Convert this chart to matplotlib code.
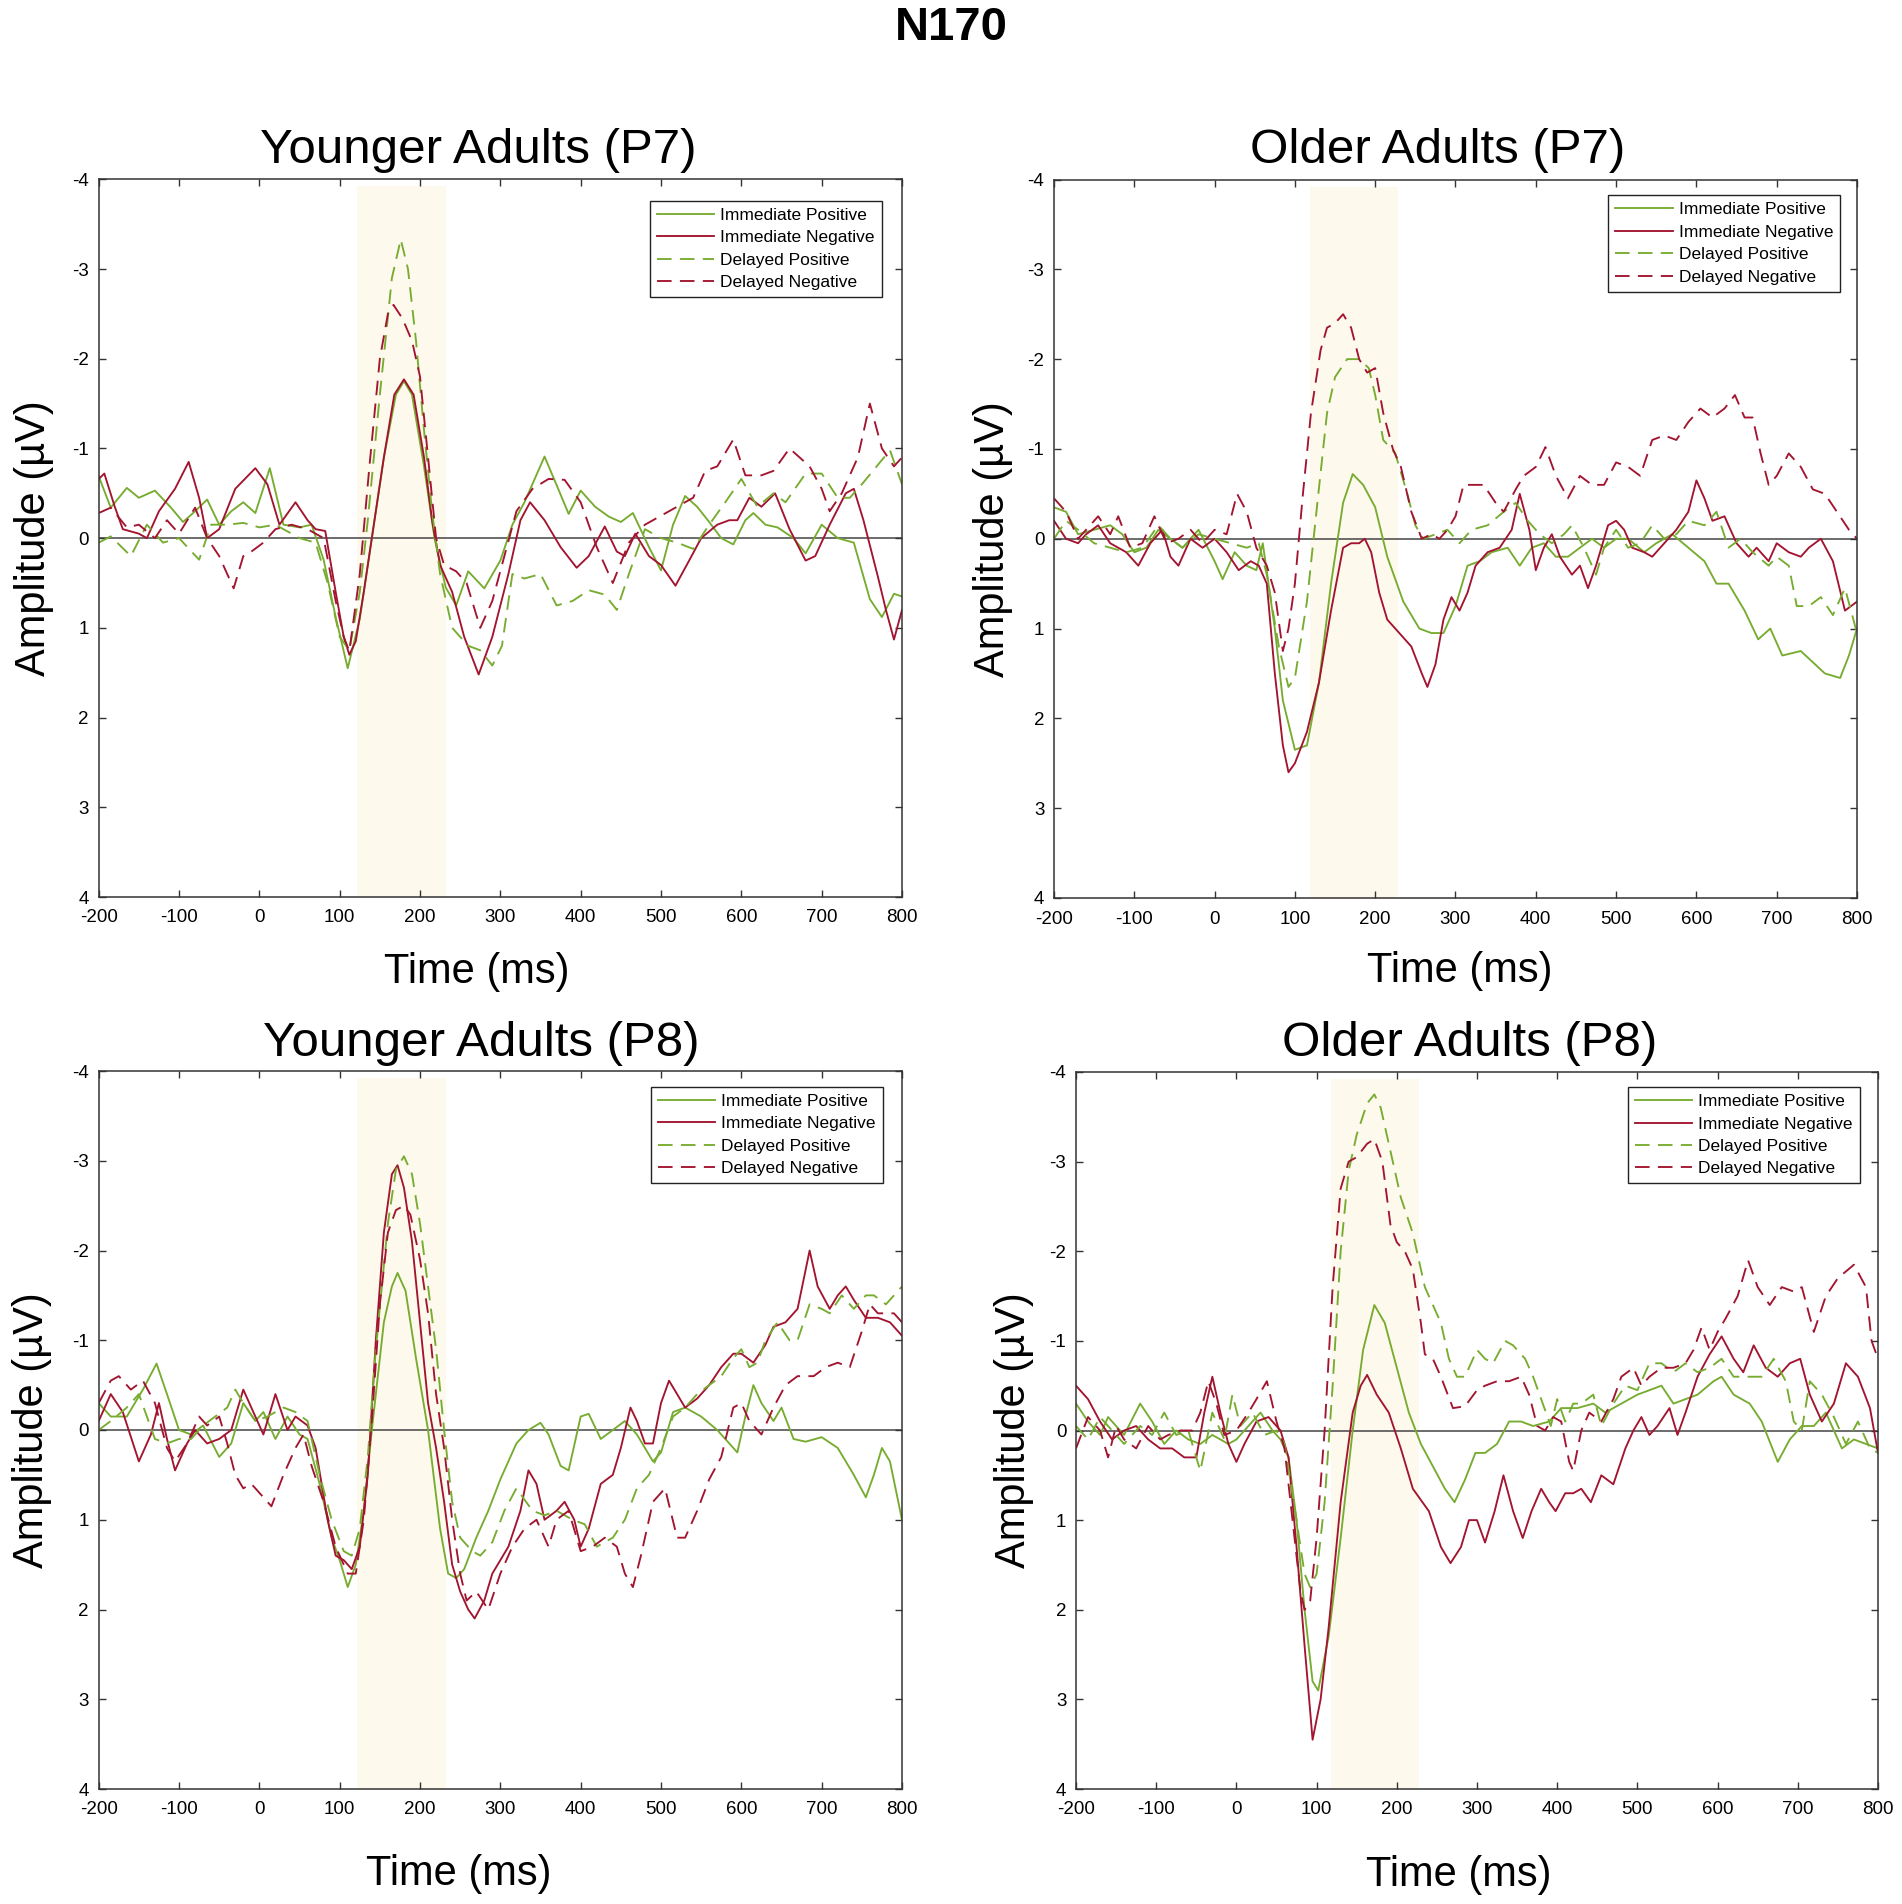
import numpy as np
import matplotlib.pyplot as plt

plt.rcParams['font.family'] = ['Liberation Sans', 'DejaVu Sans']
plt.rcParams['lines.scale_dashes'] = False
plt.rcParams['axes.unicode_minus'] = False

GREEN = '#77AC30'
RED = '#A2142F'
SHADE_COLOR = '#FDF9EC'

LABELS = ['Immediate Positive', 'Immediate Negative', 'Delayed Positive', 'Delayed Negative']
TITLES = ['Younger Adults (P7)', 'Older Adults (P7)', 'Younger Adults (P8)', 'Older Adults (P8)']
X_TICKS = list(range(-200, 801, 100))
Y_TICKS = list(range(-4, 5))
SHADE = [(122, 232), (119, 229), (122, 232), (118, 228)]

# (time ms, amplitude uV)
# Younger adults, P7
YP7_IMM_POS = [(-200,-0.69),(-185,-0.34),(-165,-0.56),(-150,-0.45),(-130,-0.53),(-110,-0.34),(-95,-0.18),(-80,-0.3),(-65,-0.43),(-50,-0.15),(-35,-0.3),(-20,-0.4),(-5,-0.28),(13,-0.78),(30,-0.15),(50,-0.12),(65,-0.15),(80,0.24),(95,0.88),(110,1.45),(125,0.9),(140,0.0),(155,-0.9),(170,-1.6),(180,-1.75),(190,-1.6),(205,-0.8),(218,0.0),(232,0.55),(245,0.75),(260,0.37),(280,0.56),(300,0.25),(315,-0.15),(330,-0.4),(355,-0.91),(372,-0.55),(385,-0.27),(400,-0.53),(418,-0.35),(435,-0.24),(450,-0.18),(465,-0.28),(485,0.1),(500,0.36),(515,-0.15),(530,-0.47),(545,-0.35),(560,-0.18),(575,0.0),(590,0.07),(605,-0.2),(615,-0.28),(630,-0.15),(645,-0.12),(665,0.0),(680,0.17),(700,-0.15),(720,0.0),(740,0.05),(760,0.68),(775,0.88),(790,0.62),(800,0.65)]
YP7_IMM_NEG = [(-200,-0.66),(-193,-0.72),(-180,-0.35),(-170,-0.1),(-150,-0.05),(-140,0.0),(-125,-0.3),(-105,-0.55),(-88,-0.85),(-75,-0.45),(-65,0.0),(-50,-0.1),(-30,-0.55),(-5,-0.78),(10,-0.6),(25,-0.15),(45,-0.4),(60,-0.2),(70,-0.1),(82,-0.08),(95,0.6),(105,1.1),(112,1.3),(120,1.15),(130,0.6),(140,0.0),(155,-0.9),(168,-1.6),(180,-1.77),(192,-1.6),(205,-0.9),(215,-0.2),(225,0.3),(240,0.6),(255,1.1),(273,1.52),(290,1.1),(310,0.4),(325,-0.2),(337,-0.4),(355,-0.2),(375,0.1),(395,0.33),(410,0.2),(430,-0.13),(445,0.15),(455,0.2),(468,-0.05),(485,0.2),(500,0.3),(518,0.53),(535,0.25),(550,0.0),(570,-0.15),(585,-0.2),(595,-0.2),(610,-0.45),(625,-0.35),(642,-0.5),(660,-0.1),(680,0.25),(692,0.2),(710,-0.15),(730,-0.5),(740,-0.55),(752,-0.2),(770,0.43),(780,0.8),(790,1.13),(800,0.8)]
YP7_DEL_POS = [(-200,0.05),(-185,-0.02),(-160,0.2),(-140,-0.15),(-120,0.05),(-100,0.0),(-75,0.24),(-60,-0.15),(-40,-0.15),(-20,-0.17),(0,-0.12),(20,-0.15),(50,0.0),(70,0.05),(85,0.5),(100,1.1),(112,1.25),(125,0.6),(135,-0.2),(150,-1.6),(165,-2.9),(176,-3.33),(185,-3.0),(195,-2.2),(205,-1.2),(215,-0.3),(225,0.4),(240,1.0),(260,1.2),(275,1.25),(290,1.42),(302,1.2),(315,0.4),(330,0.45),(350,0.4),(370,0.75),(390,0.7),(410,0.58),(430,0.63),(445,0.8),(460,0.4),(480,-0.1),(500,0.0),(520,0.05),(540,0.12),(560,-0.15),(580,-0.4),(600,-0.66),(620,-0.35),(640,-0.5),(655,-0.4),(680,-0.72),(700,-0.72),(720,-0.45),(735,-0.45),(750,-0.6),(785,-0.98),(800,-0.6)]
YP7_DEL_NEG = [(-200,-0.28),(-185,-0.34),(-165,-0.12),(-150,-0.15),(-130,0.0),(-115,-0.2),(-100,-0.05),(-80,-0.34),(-65,0.0),(-50,0.2),(-32,0.56),(-20,0.2),(-10,0.15),(5,0.05),(20,-0.1),(40,-0.15),(60,-0.1),(80,0.0),(95,0.7),(105,1.1),(112,1.26),(125,0.4),(137,-0.8),(150,-2.0),(160,-2.5),(167,-2.6),(178,-2.45),(190,-2.2),(200,-1.8),(210,-0.9),(220,0.0),(230,0.3),(245,0.37),(258,0.5),(275,1.0),(290,0.7),(305,0.2),(320,-0.3),(340,-0.55),(360,-0.66),(380,-0.65),(400,-0.4),(420,0.1),(440,0.5),(460,0.05),(480,-0.15),(500,-0.25),(520,-0.35),(540,-0.45),(555,-0.75),(570,-0.8),(590,-1.1),(605,-0.7),(625,-0.7),(640,-0.75),(660,-1.0),(685,-0.8),(700,-0.55),(710,-0.3),(725,-0.5),(745,-0.9),(760,-1.5),(775,-1.0),(790,-0.8),(800,-0.9)]

# Older adults, P7
OP7_IMM_POS = [(-200,-0.35),(-185,-0.3),(-170,-0.05),(-150,-0.1),(-130,-0.15),(-115,-0.05),(-100,0.15),(-85,0.1),(-70,-0.1),(-55,0.0),(-40,0.1),(-20,-0.1),(0,0.25),(10,0.45),(25,0.15),(40,0.3),(52,0.35),(60,0.05),(75,1.0),(85,1.8),(100,2.35),(115,2.3),(130,1.6),(145,0.5),(160,-0.4),(172,-0.72),(185,-0.6),(200,-0.35),(215,0.2),(235,0.7),(255,1.0),(270,1.05),(285,1.05),(300,0.75),(315,0.3),(330,0.25),(345,0.15),(365,0.1),(380,0.3),(395,0.1),(410,0.05),(425,0.2),(440,0.2),(455,0.1),(470,0.0),(485,0.1),(500,0.0),(515,0.0),(535,0.15),(550,0.05),(570,-0.05),(590,0.1),(610,0.25),(625,0.5),(640,0.5),(660,0.8),(677,1.12),(692,1.0),(707,1.3),(730,1.25),(760,1.5),(779,1.55),(790,1.3),(800,1.0)]
OP7_IMM_NEG = [(-200,-0.2),(-185,0.0),(-170,0.05),(-160,-0.05),(-145,-0.15),(-130,0.05),(-110,0.15),(-95,0.3),(-80,0.05),(-65,-0.1),(-55,0.2),(-45,0.3),(-30,0.0),(-15,0.1),(0,0.0),(15,0.15),(30,0.35),(45,0.25),(55,0.3),(65,0.5),(75,1.5),(85,2.3),(92,2.6),(100,2.5),(115,2.15),(130,1.6),(145,0.8),(160,0.1),(170,0.05),(180,0.05),(187,0.0),(195,0.15),(205,0.6),(215,0.9),(230,1.05),(245,1.2),(258,1.5),(265,1.65),(275,1.4),(285,0.9),(295,0.65),(305,0.8),(315,0.6),(325,0.3),(340,0.15),(355,0.1),(370,-0.1),(380,-0.5),(392,-0.1),(400,0.35),(410,0.1),(420,-0.05),(430,0.2),(445,0.4),(455,0.3),(465,0.55),(475,0.3),(490,-0.15),(500,-0.2),(510,-0.1),(520,0.1),(535,0.15),(545,0.2),(560,0.05),(575,-0.1),(590,-0.3),(600,-0.65),(610,-0.45),(620,-0.2),(635,-0.25),(650,0.05),(665,0.2),(675,0.1),(690,0.25),(700,0.05),(715,0.15),(730,0.2),(740,0.1),(755,0.0),(770,0.25),(785,0.8),(800,0.7)]
OP7_DEL_POS = [(-200,0.0),(-185,-0.2),(-170,-0.1),(-150,0.05),(-130,0.1),(-110,0.15),(-90,0.1),(-70,-0.15),(-55,0.0),(-40,0.1),(-20,-0.05),(0,0.0),(20,0.05),(40,0.1),(55,0.05),(65,0.4),(80,1.2),(92,1.65),(100,1.55),(115,0.7),(128,-0.4),(140,-1.4),(150,-1.8),(165,-2.0),(180,-2.0),(192,-1.9),(200,-1.6),(210,-1.1),(225,-0.95),(240,-0.5),(250,-0.15),(260,0.0),(275,-0.05),(290,-0.1),(305,0.05),(320,-0.1),(340,-0.15),(360,-0.3),(375,-0.4),(390,-0.2),(405,-0.05),(420,0.05),(435,-0.05),(445,-0.15),(460,0.1),(475,0.4),(485,0.1),(500,-0.1),(515,0.1),(530,0.05),(545,-0.15),(560,0.0),(575,-0.05),(590,-0.2),(610,-0.15),(625,-0.3),(640,0.1),(655,0.0),(670,0.15),(690,0.3),(700,0.2),(715,0.3),(725,0.75),(740,0.75),(755,0.65),(770,0.85),(785,0.55),(800,1.05)]
OP7_DEL_NEG = [(-200,-0.45),(-185,-0.3),(-170,0.0),(-160,-0.1),(-145,-0.25),(-130,-0.05),(-120,-0.25),(-105,0.1),(-90,0.05),(-75,-0.25),(-60,0.05),(-45,0.0),(-30,-0.1),(-15,0.05),(0,-0.1),(15,-0.05),(28,-0.5),(40,-0.3),(52,0.1),(65,0.3),(75,0.6),(85,1.25),(92,1.0),(100,0.5),(110,-0.5),(120,-1.4),(132,-2.1),(140,-2.35),(150,-2.4),(160,-2.5),(170,-2.35),(180,-2.0),(190,-1.85),(200,-1.9),(210,-1.4),(222,-1.0),(232,-0.8),(245,-0.3),(258,0.0),(270,-0.05),(280,0.0),(290,-0.1),(300,-0.25),(310,-0.6),(320,-0.6),(335,-0.6),(350,-0.4),(360,-0.3),(375,-0.55),(385,-0.7),(400,-0.8),(412,-1.02),(425,-0.7),(440,-0.45),(455,-0.7),(470,-0.6),(485,-0.6),(500,-0.85),(515,-0.8),(530,-0.7),(545,-1.1),(560,-1.15),(575,-1.1),(590,-1.3),(605,-1.45),(620,-1.35),(635,-1.45),(648,-1.6),(660,-1.35),(670,-1.35),(680,-0.95),(690,-0.6),(700,-0.7),(715,-0.95),(730,-0.8),(745,-0.55),(760,-0.5),(775,-0.3),(790,-0.1),(800,0.0)]

# Younger adults, P8
YP8_IMM_POS = [(-200,-0.3),(-185,-0.15),(-165,-0.15),(-145,-0.45),(-128,-0.74),(-115,-0.4),(-100,0.0),(-85,0.05),(-70,-0.05),(-50,0.3),(-35,0.15),(-20,-0.3),(-5,-0.1),(5,-0.2),(20,0.1),(35,-0.15),(50,0.05),(60,0.1),(75,0.6),(90,1.2),(100,1.45),(110,1.75),(120,1.5),(130,0.9),(140,0.0),(155,-1.2),(165,-1.6),(172,-1.75),(182,-1.55),(195,-0.8),(210,0.0),(225,1.1),(235,1.6),(245,1.65),(255,1.55),(270,1.2),(285,0.9),(300,0.55),(320,0.15),(335,0.0),(350,-0.08),(360,0.05),(375,0.4),(385,0.45),(400,-0.15),(410,-0.18),(425,0.1),(440,0.0),(455,-0.1),(470,0.05),(490,0.35),(500,0.25),(515,-0.2),(530,-0.25),(550,-0.15),(570,0.0),(585,0.15),(595,0.25),(605,-0.15),(615,-0.5),(625,-0.3),(640,-0.1),(650,-0.25),(665,0.1),(680,0.13),(700,0.08),(720,0.2),(740,0.5),(755,0.75),(765,0.5),(775,0.2),(785,0.35),(800,1.0)]
YP8_IMM_NEG = [(-200,-0.1),(-185,-0.4),(-170,-0.2),(-150,0.35),(-135,0.05),(-125,-0.3),(-115,0.1),(-105,0.45),(-90,0.15),(-80,0.0),(-65,0.15),(-50,0.1),(-35,0.0),(-20,-0.45),(-5,-0.15),(5,0.05),(20,-0.4),(35,0.0),(45,-0.15),(60,-0.05),(70,0.2),(85,1.0),(95,1.4),(105,1.45),(115,1.55),(125,1.3),(135,0.5),(145,-1.0),(155,-2.2),(165,-2.85),(172,-2.95),(180,-2.7),(190,-2.1),(200,-1.2),(210,-0.3),(220,0.2),(230,0.8),(240,1.5),(250,1.8),(260,2.0),(268,2.1),(280,1.9),(290,1.6),(300,1.45),(310,1.3),(325,0.9),(335,0.45),(345,0.6),(355,1.0),(370,0.9),(380,0.8),(392,1.0),(400,1.3),(410,1.1),(425,0.6),(440,0.5),(450,0.2),(462,-0.25),(470,-0.1),(480,0.15),(490,0.15),(500,-0.3),(510,-0.55),(520,-0.4),(530,-0.25),(545,-0.35),(560,-0.5),(575,-0.7),(590,-0.85),(600,-0.85),(615,-0.75),(630,-0.95),(640,-1.15),(655,-1.2),(670,-1.35),(685,-2.0),(695,-1.6),(710,-1.35),(720,-1.5),(730,-1.6),(740,-1.45),(755,-1.25),(770,-1.25),(785,-1.2),(800,-1.05)]
YP8_DEL_POS = [(-200,0.0),(-185,-0.1),(-165,-0.25),(-150,-0.4),(-130,0.1),(-115,0.15),(-100,0.1),(-85,0.1),(-70,-0.05),(-55,-0.15),(-40,-0.25),(-30,-0.45),(-20,-0.3),(-5,-0.1),(10,-0.15),(30,-0.25),(45,-0.2),(60,-0.1),(75,0.5),(90,1.0),(105,1.35),(115,1.4),(125,1.1),(135,0.3),(145,-0.9),(160,-2.3),(170,-2.9),(180,-3.05),(190,-2.85),(200,-2.3),(210,-1.6),(220,-0.9),(230,0.0),(240,0.8),(250,1.2),(265,1.35),(275,1.4),(290,1.25),(305,0.9),(320,0.65),(340,0.9),(355,0.95),(370,0.9),(390,1.0),(405,1.05),(420,1.3),(440,1.2),(455,1.0),(470,0.65),(485,0.5),(500,0.2),(515,-0.15),(530,-0.25),(545,-0.4),(560,-0.5),(575,-0.6),(590,-0.8),(600,-0.9),(610,-0.7),(620,-0.75),(630,-1.0),(645,-1.2),(660,-1.0),(670,-1.0),(685,-1.4),(700,-1.35),(710,-1.3),(725,-1.5),(740,-1.35),(755,-1.5),(765,-1.5),(780,-1.4),(800,-1.6)]
YP8_DEL_NEG = [(-200,-0.3),(-185,-0.55),(-175,-0.6),(-160,-0.45),(-145,-0.55),(-130,-0.3),(-115,0.2),(-105,0.35),(-90,0.15),(-75,-0.15),(-65,-0.05),(-50,-0.15),(-40,0.15),(-30,0.5),(-20,0.65),(-10,0.6),(0,0.7),(15,0.85),(30,0.5),(45,0.2),(55,0.05),(65,0.4),(80,0.8),(95,1.3),(110,1.6),(120,1.6),(130,1.0),(140,-0.1),(150,-1.4),(160,-2.2),(170,-2.45),(180,-2.5),(188,-2.4),(200,-1.9),(210,-1.3),(220,-0.4),(230,0.2),(240,1.0),(250,1.6),(258,1.9),(270,1.8),(285,2.0),(300,1.6),(315,1.3),(330,1.1),(345,1.0),(360,1.3),(370,1.0),(385,0.9),(400,1.35),(415,1.3),(430,1.2),(445,1.3),(455,1.6),(465,1.75),(475,1.4),(490,0.8),(505,0.65),(520,1.2),(530,1.2),(545,0.9),(560,0.55),(575,0.3),(590,-0.25),(600,-0.3),(610,-0.1),(625,0.05),(640,-0.25),(655,-0.5),(670,-0.6),(690,-0.6),(705,-0.7),(720,-0.75),(735,-0.7),(750,-1.1),(760,-1.4),(770,-1.3),(790,-1.3),(800,-1.2)]

# Older adults, P8
OP8_IMM_POS = [(-200,-0.3),(-185,-0.1),(-170,0.05),(-160,-0.15),(-140,0.05),(-120,-0.3),(-105,-0.1),(-90,0.15),(-75,0.0),(-60,0.1),(-45,0.15),(-30,0.05),(-10,0.15),(0,0.1),(15,-0.05),(30,-0.2),(45,0.0),(55,0.1),(65,0.3),(75,1.0),(85,2.0),(95,2.8),(102,2.9),(115,2.3),(130,1.2),(145,0.0),(158,-0.9),(172,-1.4),(185,-1.2),(200,-0.7),(215,-0.2),(230,0.15),(245,0.4),(260,0.65),(272,0.8),(285,0.55),(298,0.25),(310,0.25),(325,0.15),(340,-0.1),(355,-0.1),(370,-0.05),(390,-0.1),(405,-0.25),(425,-0.25),(445,-0.3),(460,-0.2),(480,-0.3),(500,-0.4),(515,-0.45),(530,-0.5),(545,-0.3),(560,-0.35),(575,-0.4),(595,-0.55),(605,-0.6),(620,-0.4),(640,-0.3),(655,-0.1),(675,0.35),(690,0.1),(705,-0.05),(720,-0.05),(735,-0.2),(755,0.2),(770,0.1),(785,0.15),(800,0.2)]
OP8_IMM_NEG = [(-200,-0.5),(-185,-0.35),(-170,-0.1),(-155,0.1),(-140,0.0),(-125,-0.05),(-110,0.1),(-95,0.2),(-80,0.2),(-65,0.3),(-50,0.3),(-40,-0.2),(-30,-0.6),(-20,-0.2),(-10,0.15),(0,0.35),(10,0.15),(25,-0.1),(40,-0.15),(55,0.0),(65,0.3),(75,1.3),(85,2.4),(95,3.45),(105,3.0),(115,2.2),(130,0.8),(145,-0.2),(155,-0.5),(163,-0.62),(175,-0.4),(190,-0.2),(205,0.2),(220,0.65),(240,0.9),(255,1.3),(267,1.48),(280,1.3),(290,1.0),(300,1.0),(310,1.25),(322,0.9),(333,0.5),(345,0.9),(357,1.2),(368,0.9),(380,0.65),(390,0.8),(398,0.9),(410,0.7),(420,0.7),(430,0.65),(442,0.8),(455,0.5),(470,0.6),(485,0.2),(495,0.0),(505,-0.15),(515,0.05),(525,-0.05),(540,-0.25),(550,0.05),(560,-0.2),(575,-0.6),(590,-0.85),(605,-1.05),(620,-0.8),(632,-0.65),(645,-0.95),(660,-0.7),(675,-0.6),(690,-0.75),(703,-0.8),(715,-0.4),(730,-0.1),(745,-0.3),(760,-0.75),(775,-0.6),(790,-0.25),(800,0.25)]
OP8_DEL_POS = [(-200,-0.05),(-185,0.1),(-170,-0.15),(-155,0.0),(-140,0.15),(-120,-0.05),(-105,0.05),(-90,-0.2),(-75,0.05),(-60,0.0),(-45,0.45),(-30,-0.2),(-15,0.1),(-5,-0.4),(5,-0.05),(20,-0.2),(35,0.05),(50,0.0),(60,0.15),(75,1.0),(85,1.6),(92,1.75),(100,1.6),(110,0.8),(120,-0.5),(130,-2.0),(140,-2.9),(150,-3.3),(163,-3.65),(172,-3.75),(180,-3.6),(190,-3.2),(205,-2.6),(220,-2.2),(235,-1.6),(245,-1.4),(255,-1.2),(265,-0.8),(275,-0.6),(285,-0.6),(300,-0.9),(310,-0.8),(320,-0.75),(335,-1.0),(345,-0.95),(360,-0.8),(370,-0.6),(380,-0.35),(392,-0.05),(400,-0.35),(410,-0.1),(420,-0.3),(430,-0.3),(445,-0.4),(455,-0.05),(470,-0.3),(485,-0.5),(500,-0.45),(515,-0.75),(530,-0.75),(545,-0.65),(560,-0.75),(575,-0.65),(590,-0.7),(605,-0.8),(620,-0.6),(640,-0.6),(655,-0.6),(670,-0.8),(685,-0.55),(695,-0.1),(705,0.0),(715,-0.55),(730,-0.4),(745,-0.15),(760,0.15),(775,-0.1),(790,0.2),(800,0.25)]
OP8_DEL_NEG = [(-200,0.2),(-185,-0.15),(-170,0.0),(-160,0.3),(-150,-0.05),(-140,0.1),(-125,0.2),(-110,-0.05),(-95,0.1),(-85,0.05),(-70,0.0),(-55,0.0),(-45,-0.2),(-35,-0.55),(-25,-0.3),(-15,0.05),(0,0.0),(15,-0.2),(25,-0.35),(38,-0.55),(50,-0.1),(60,0.2),(70,1.0),(80,1.8),(85,2.0),(92,1.9),(100,1.2),(110,0.0),(120,-1.6),(130,-2.7),(140,-3.0),(150,-3.05),(163,-3.2),(172,-3.25),(182,-3.0),(192,-2.3),(200,-2.1),(210,-2.0),(220,-1.8),(230,-1.2),(235,-0.85),(245,-0.8),(255,-0.6),(270,-0.25),(285,-0.27),(300,-0.45),(310,-0.5),(325,-0.55),(340,-0.55),(355,-0.6),(365,-0.4),(375,-0.05),(385,0.0),(395,-0.15),(405,-0.1),(415,0.35),(420,0.45),(430,0.0),(440,-0.2),(455,-0.1),(470,-0.35),(480,-0.6),(495,-0.7),(505,-0.5),(515,-0.6),(530,-0.7),(545,-0.7),(560,-0.75),(570,-0.9),(580,-1.15),(590,-0.9),(600,-1.1),(610,-1.25),(625,-1.5),(638,-1.9),(650,-1.6),(665,-1.4),(680,-1.6),(695,-1.55),(705,-1.6),(720,-1.1),(735,-1.5),(750,-1.7),(770,-1.85),(785,-1.6),(792,-1.0),(800,-0.8)]

PANELS = [
    [YP7_IMM_POS, YP7_IMM_NEG, YP7_DEL_POS, YP7_DEL_NEG],
    [OP7_IMM_POS, OP7_IMM_NEG, OP7_DEL_POS, OP7_DEL_NEG],
    [YP8_IMM_POS, YP8_IMM_NEG, YP8_DEL_POS, YP8_DEL_NEG],
    [OP8_IMM_POS, OP8_IMM_NEG, OP8_DEL_POS, OP8_DEL_NEG],
]
COLORS = [GREEN, RED, GREEN, RED]
DASHED = [False, False, True, True]

W, H = 1902, 1904
fig = plt.figure(figsize=(W / 100, H / 100), dpi=100)

def fx(px):
    return px / W

def fy(py):
    return 1 - py / H

# axes boxes in pixels: left, top, right, bottom
boxes = [(98.7, 179.3, 902, 897), (1054, 179.5, 1857, 898),
         (98.7, 1071, 902, 1789), (1076, 1072, 1878, 1789)]
title_pos = [(478, 163), (1438, 163), (481, 1056), (1470, 1056)]
xlab_pos = [(477, 983), (1460, 982), (459, 1885), (1459, 1886)]
ylab_pos = [(34, 538), (993, 539), (32, 1430), (1014, 1430)]
leg_anchor = [(0.975, 0.970), (0.979, 0.978), (0.976, 0.978), (0.977, 0.979)]

for i, (l, t, r, b) in enumerate(boxes):
    ax = fig.add_axes([fx(l), fy(b), (r - l) / W, (b - t) / H])
    s0, s1 = SHADE[i]
    ax.axvspan(s0, s1, ymin=0, ymax=0.99, color=SHADE_COLOR, lw=0, zorder=0)
    ax.axhline(0, color='#606060', lw=1.3, zorder=1)
    for j, series in enumerate(PANELS[i]):
        arr = np.array(series)
        line, = ax.plot(arr[:, 0], arr[:, 1], color=COLORS[j], lw=1.35,
                        label=LABELS[j], zorder=2, solid_joinstyle='round')
        if DASHED[j]:
            line.set_dashes((10.5, 6))
    ax.set_xlim(-200, 800)
    ax.set_ylim(4, -4)
    ax.set_xticks(X_TICKS)
    ax.set_yticks(Y_TICKS)
    ax.tick_params(direction='in', top=True, right=True, length=5, width=1.0,
                   color='#333333', labelsize=13.5)
    ax.tick_params(axis='x', pad=9)
    ax.tick_params(axis='y', pad=7)
    for sp in ax.spines.values():
        sp.set_color('#333333')
        sp.set_linewidth(1.1)
    leg = ax.legend(loc='upper right', bbox_to_anchor=leg_anchor[i],
                    borderaxespad=0, fontsize=12.5, handlelength=3.3,
                    handletextpad=0.35, labelspacing=0.42, borderpad=0.4,
                    fancybox=False, framealpha=1)
    leg.get_frame().set_edgecolor('#222222')
    leg.get_frame().set_linewidth(1.0)

    tx, ty = title_pos[i]
    fig.text(fx(tx), fy(ty), TITLES[i], ha='center', va='baseline', fontsize=35.5)
    xx, xy = xlab_pos[i]
    fig.text(fx(xx), fy(xy), 'Time (ms)', ha='center', va='baseline', fontsize=30)
    yx, yy = ylab_pos[i]
    fig.text(fx(yx), fy(yy), 'Amplitude (\u00b5V)', ha='center', va='center',
             rotation=90, fontsize=30)

fig.text(0.5, fy(27.5), 'N170', ha='center', va='center', fontsize=34, fontweight='bold')

fig.savefig('out.png', dpi=100)
